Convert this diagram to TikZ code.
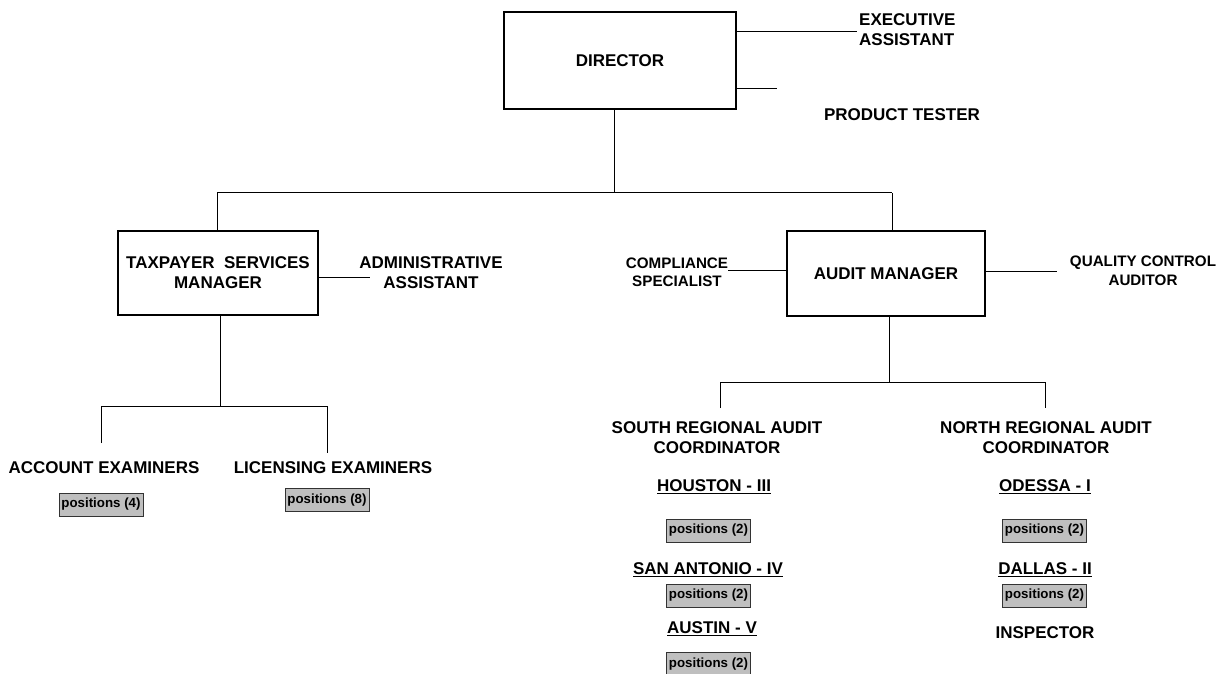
\documentclass[tikz,border=0pt]{standalone}
\usepackage{fontspec}
\setmainfont{Liberation Sans}
\begin{document}
\begin{tikzpicture}[x=1pt,y=-1pt,
  box/.style={draw, line width=1.3pt, inner sep=0pt, font=\bfseries\fontsize{17}{20}\selectfont, align=center},
  big/.style={font=\bfseries\fontsize{17}{20}\selectfont, align=center, inner sep=0pt},
  small/.style={font=\bfseries\fontsize{15.2}{18.5}\selectfont, align=center, inner sep=0pt},
  posbox/.style={draw=black!80, line width=0.8pt, fill=black!25, font=\bfseries\fontsize{13.3}{15}\selectfont, inner sep=0pt, minimum width=84pt, minimum height=23pt},
  conn/.style={line width=1pt}]
\useasboundingbox (0,0) rectangle (1219,674);
\fill[white] (0,0) rectangle (1219,674);
% main boxes
\node[box, minimum width=232pt, minimum height=97pt] (dir) at (620,60.5) {DIRECTOR};
\node[box, minimum width=200pt, minimum height=84pt] (tsm) at (218,273) {TAXPAYER\ \ SERVICES\\MANAGER};
\node[box, minimum width=198pt, minimum height=85pt] (am) at (886,273.5) {AUDIT MANAGER};
% side labels
\node[big, anchor=west, align=left] (exec) at (859,30) {EXECUTIVE\\ASSISTANT};
\node[big] (pt) at (902,115) {PRODUCT TESTER};
\node[big] (adm) at (431,273) {ADMINISTRATIVE\\ASSISTANT};
\node[small] (comp) at (677,272.5) {COMPLIANCE\\SPECIALIST};
\node[small] (qca) at (1143,271) {QUALITY CONTROL\\AUDITOR};
% connector coordinates
\coordinate (e1) at (857,32);
\coordinate (p1) at (777,89);
\coordinate (busL) at (217,193);
\coordinate (busM) at (614,193);
\coordinate (busR) at (892,193);
\coordinate (a1) at (370,277);
\coordinate (c1) at (728,270);
\coordinate (q1) at (1057,271);
\draw[conn] (dir.east|-e1) -- (e1);
\draw[conn] (dir.east|-p1) -- (p1);
\draw[conn] (busM|-dir.south) -- (busM);
\draw[conn] (busL) -- (busR);
\draw[conn] (busL) -- (busL|-tsm.north);
\draw[conn] (busR) -- (busR|-am.north);
\draw[conn] (tsm.east|-a1) -- (a1);
\draw[conn] (am.west|-c1) -- (c1);
\draw[conn] (am.east|-q1) -- (q1);
% taxpayer subtree
\coordinate (tb) at (220,406);
\coordinate (tL) at (101,406);
\coordinate (tR) at (327,406);
\coordinate (tLe) at (101,443);
\coordinate (tRe) at (327,453);
\draw[conn] (tb|-tsm.south) -- (tb);
\draw[conn] (tLe) -- (tL) -- (tR) -- (tRe);
\node[big] (acc) at (104,468) {ACCOUNT EXAMINERS};
\node[big] (lic) at (333,468) {LICENSING EXAMINERS};
\node[posbox] (p4) at (101,504.5) {positions (4)};
\node[posbox] (p8) at (327,500) {positions (8)};
% audit subtree
\coordinate (ab) at (889,382);
\coordinate (aL) at (720,382);
\coordinate (aR) at (1045,382);
\coordinate (aLe) at (720,408);
\coordinate (aRe) at (1045,408);
\draw[conn] (ab|-am.south) -- (ab);
\draw[conn] (aLe) -- (aL) -- (aR) -- (aRe);
\node[big] (south) at (717,438) {SOUTH REGIONAL AUDIT\\COORDINATOR};
\node[big] (north) at (1046,438) {NORTH REGIONAL AUDIT\\COORDINATOR};
\node[big] (hou) at (714,487) {\underline{HOUSTON - III}};
\node[posbox] (ph) at (708.5,530.5) {positions (2)};
\node[big] (san) at (708,570) {\underline{SAN ANTONIO - IV}};
\node[posbox] (ps) at (708.5,595.5) {positions (2)};
\node[big] (aus) at (712,629) {\underline{AUSTIN - V}};
\node[posbox] (pa) at (708.5,664) {positions (2)};
\node[big] (ode) at (1045,487) {\underline{ODESSA - I}};
\node[posbox] (po) at (1044.5,530.5) {positions (2)};
\node[big] (dal) at (1045,570) {\underline{DALLAS - II}};
\node[posbox] (pd) at (1044.5,595.5) {positions (2)};
\node[big] (insp) at (1045,633) {INSPECTOR};
\end{tikzpicture}
\end{document}
